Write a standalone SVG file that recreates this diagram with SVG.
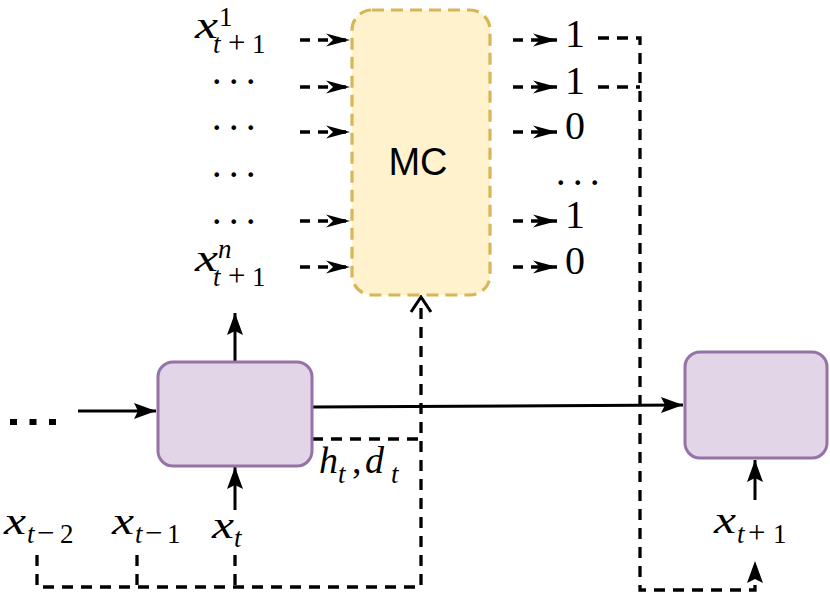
<svg xmlns="http://www.w3.org/2000/svg" width="830" height="600" viewBox="0 0 830 600">
<style>
.m{font-family:"Liberation Serif","Times New Roman",serif;fill:#000}
.i{font-style:italic}
.big{font-size:38px}
.s{font-size:27px}
.num{font-size:40px}
.dots{font-size:16px;font-family:"DejaVu Sans",sans-serif}
.c{fill:none;stroke:#000;stroke-width:3}
.d{stroke-width:3.3;stroke-dasharray:11 8}
.sm{fill:none;stroke:#000;stroke-width:3.3;stroke-dasharray:10 8}
.rnn{fill:#e1d5e7;stroke:#9673a6;stroke-width:3}
.mc{fill:#fff2cc;stroke:#d6b656;stroke-width:3.2;stroke-dasharray:12 7}
</style>
<defs>
<marker id="small" markerUnits="userSpaceOnUse" markerWidth="30" markerHeight="20" viewBox="-26 -10 30 20" refX="0" refY="0" orient="auto">
<path d="M0,0 L-24,-6.5 L-17,0 L-24,6.5 Z" fill="#000"/>
</marker>
<marker id="big" markerUnits="userSpaceOnUse" markerWidth="30" markerHeight="24" viewBox="-26 -12 30 24" refX="0" refY="0" orient="auto">
<path d="M0,0 L-22,-8 L-18,0 L-22,8 Z" fill="#000"/>
</marker>
<marker id="open" markerUnits="userSpaceOnUse" markerWidth="30" markerHeight="30" viewBox="-20 -15 24 30" refX="0" refY="0" orient="auto">
<path d="M-15,-10 L0,0 L-15,10" fill="none" stroke="#000" stroke-width="3"/>
</marker>
</defs>

<g id="connectors">
<path class="sm" d="M300,40 L350,40" marker-end="url(#small)"/>
<path class="sm" d="M300,87 L350,87" marker-end="url(#small)"/>
<path class="sm" d="M300,132 L350,132" marker-end="url(#small)"/>
<path class="sm" d="M300,221 L350,221" marker-end="url(#small)"/>
<path class="sm" d="M300,267 L350,267" marker-end="url(#small)"/>
<path class="sm" d="M513,40 L557,40" marker-end="url(#small)"/>
<path class="sm" d="M513,87 L557,87" marker-end="url(#small)"/>
<path class="sm" d="M513,132 L557,132" marker-end="url(#small)"/>
<path class="sm" d="M513,221 L557,221" marker-end="url(#small)"/>
<path class="sm" d="M513,267 L557,267" marker-end="url(#small)"/>
<path class="c d" d="M598,38 L640,38 L640,590 L755,590 L755,561" marker-end="url(#big)"/>
<path class="c d" d="M598,87 L640,87"/>
<path class="c d" d="M37,555 L37,587 L421,587 L421,297" marker-end="url(#open)"/>
<path class="c d" d="M137,555 L137,587"/>
<path class="c d" d="M235,555 L235,587"/>
<path class="c d" d="M312,439 L421,439"/>
<path class="c" d="M78,411 L156,411" marker-end="url(#big)"/>
<path class="c" d="M312,407 L683,405" marker-end="url(#big)"/>
<path class="c" d="M235,362 L235,313" marker-end="url(#big)"/>
<path class="c" d="M235,510 L235,467" marker-end="url(#big)"/>
<path class="c" d="M755,500 L755,460" marker-end="url(#big)"/>
<path d="M10,422 L56,422" fill="none" stroke="#000" stroke-width="6" stroke-dasharray="7 12.5"/>
</g>

<g id="mc">
<rect class="mc" x="352" y="10" width="138" height="285" rx="20"/>
<text x="418" y="175" text-anchor="middle" font-family="Liberation Sans, Arial, sans-serif" font-size="38">MC</text>
</g>

<g id="rnn-t">
<rect class="rnn" x="158" y="362" width="154" height="104" rx="15"/>
</g>
<g id="rnn-t1">
<rect class="rnn" x="685" y="352" width="142" height="106" rx="15"/>
</g>

<g id="inputs-left">
<text class="m i big" x="195" y="38" textLength="23" lengthAdjust="spacingAndGlyphs">x</text>
<text class="m s" x="219" y="26">1</text>
<text class="m s" y="53"><tspan class="i" x="213">t</tspan><tspan x="228" font-size="31">+</tspan><tspan x="252">1</tspan></text>

<text class="dots" x="212 229 246" y="88">•••</text>
<text class="dots" x="212 229 246" y="134">•••</text>
<text class="dots" x="212 229 246" y="181">•••</text>
<text class="dots" x="212 229 246" y="228">•••</text>

<text class="m i big" x="195" y="271" textLength="23" lengthAdjust="spacingAndGlyphs">x</text>
<text class="m s i" x="218" y="258">n</text>
<text class="m s" y="286"><tspan class="i" x="213">t</tspan><tspan x="228" font-size="31">+</tspan><tspan x="252">1</tspan></text>
</g>

<g id="outputs-right">
<text class="m num" x="575" y="47" text-anchor="middle">1</text>
<text class="m num" x="575" y="94" text-anchor="middle">1</text>
<text class="m num" x="575" y="139" text-anchor="middle">0</text>
<text class="dots" x="556 573 590" y="189">•••</text>
<text class="m num" x="575" y="228" text-anchor="middle">1</text>
<text class="m num" x="575" y="274" text-anchor="middle">0</text>
</g>

<g id="labels-bottom">
<text class="m i big" x="4" y="534" textLength="22" lengthAdjust="spacingAndGlyphs">x</text>
<text class="m s" y="543"><tspan class="i" x="27">t</tspan><tspan x="37" font-size="31">−</tspan><tspan x="60">2</tspan></text>

<text class="m i big" x="112" y="534" textLength="22" lengthAdjust="spacingAndGlyphs">x</text>
<text class="m s" y="543"><tspan class="i" x="135">t</tspan><tspan x="145" font-size="31">−</tspan><tspan x="167">1</tspan></text>

<text class="m i big" x="212" y="538" textLength="22" lengthAdjust="spacingAndGlyphs">x</text>
<text class="m s i" x="234" y="547">t</text>

<text class="m i big" x="319" y="473">h</text>
<text class="m s i" x="338" y="483">t</text>
<text class="m big" x="352" y="473">,</text>
<text class="m i big" x="365" y="473">d</text>
<text class="m s i" x="391" y="483">t</text>

<text class="m i big" x="714" y="533" textLength="22" lengthAdjust="spacingAndGlyphs">x</text>
<text class="m s" y="543"><tspan class="i" x="737">t</tspan><tspan x="748" font-size="31">+</tspan><tspan x="773">1</tspan></text>
</g>
</svg>
